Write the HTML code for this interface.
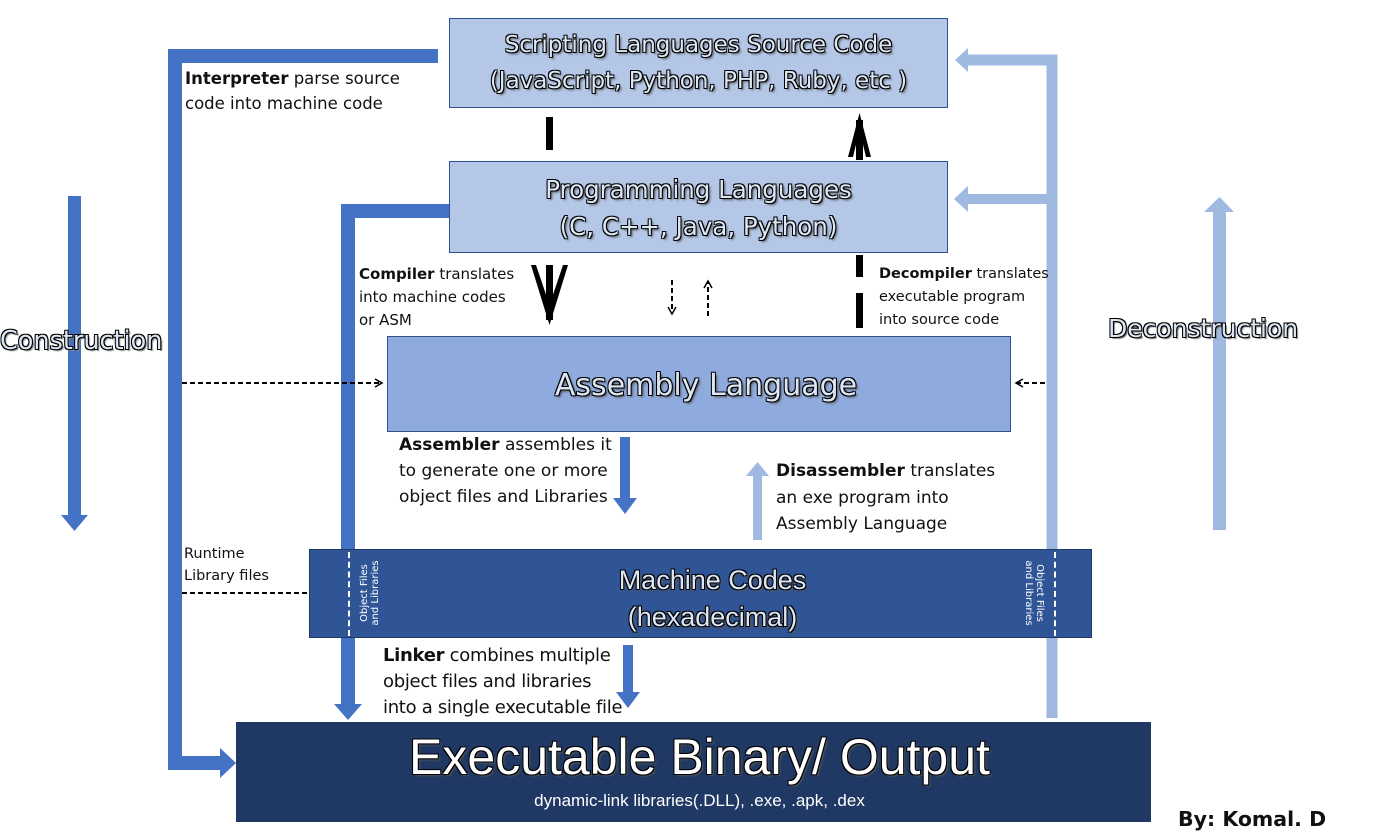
<!DOCTYPE html>
<html><head><style>
body{margin:0;width:1400px;height:836px;background:#fff;position:relative;overflow:hidden;font-family:"Liberation Sans",sans-serif}
.b{position:absolute;box-sizing:border-box;border:1.5px solid #2f528f;text-align:center}
.t{position:absolute;font-family:"DejaVu Sans",sans-serif;font-size:16px;line-height:25px;color:#111}
.d{font-family:"DejaVu Sans",sans-serif}
.o{color:#fff;text-shadow:-1px -1px 0 #000,1px -1px 0 #000,-1px 1px 0 #000,1px 1px 0 #000,2px 2px 2px #555}
.od{color:#dbe5f5;text-shadow:-1px -1px 0 #000,1px -1px 0 #000,-1px 1px 0 #000,1px 1px 0 #000,2px 2px 1px #888}
svg{position:absolute;left:0;top:0}
</style></head><body>
<svg width="1400" height="836">
<defs>
<marker id="ah" markerWidth="10" markerHeight="10" refX="8" refY="5" orient="auto" markerUnits="userSpaceOnUse"><path d="M1,1 L8,5 L1,9" fill="none" stroke="#000" stroke-width="1.5"/></marker>
</defs>
<path d="M438,56 H175 V763 H220" fill="none" stroke="#4472c4" stroke-width="14"/>
<polygon points="220,748 236,763 220,778" fill="#4472c4"/>
<path d="M449,211 H348 V705" fill="none" stroke="#4472c4" stroke-width="14"/>
<polygon points="334,704 362,704 348,720" fill="#4472c4"/>
<rect x="68" y="196" width="13" height="320" fill="#4472c4"/>
<polygon points="61,515 88,515 74.5,531" fill="#4472c4"/>
<rect x="620" y="437" width="10" height="62" fill="#4472c4"/>
<polygon points="613,498 637,498 625,514" fill="#4472c4"/>
<rect x="623" y="645" width="10" height="48" fill="#4472c4"/>
<polygon points="616,692 640,692 628,708" fill="#4472c4"/>
<path d="M1052,718 V60 H968" fill="none" stroke="#9fb9e1" stroke-width="11"/>
<polygon points="968,48 968,72 955,60" fill="#9fb9e1"/>
<rect x="968" y="194" width="86" height="10" fill="#9fb9e1"/>
<polygon points="968,186 968,212 954,199" fill="#9fb9e1"/>
<rect x="1213" y="211" width="13" height="319" fill="#9fb9e1"/>
<polygon points="1204,212 1234,212 1219.5,197" fill="#9fb9e1"/>
<rect x="753" y="475" width="9" height="65" fill="#9fb9e1"/>
<polygon points="746,476 769,476 757.5,462" fill="#9fb9e1"/>
<rect x="546" y="117" width="7" height="33" fill="#000"/>
<rect x="856" y="255" width="7" height="22" fill="#000"/>
<rect x="856" y="293" width="7" height="35" fill="#000"/>
<rect x="856" y="120" width="7" height="40" fill="#000"/>
<polygon points="848,157 859.5,113 871,157 866,157 859.5,130 853,157" fill="#000"/>
<rect x="546" y="265" width="7" height="55" fill="#000"/>
<polygon points="531,265 549.5,325 568,265 563,265 549.5,305 536,265" fill="#000"/>
<line x1="672" y1="280" x2="672" y2="314" stroke="#000" stroke-width="2" stroke-dasharray="5,3" marker-end="url(#ah)"/>
<line x1="708" y1="316" x2="708" y2="281" stroke="#000" stroke-width="2" stroke-dasharray="5,3" marker-end="url(#ah)"/>
<line x1="182" y1="383" x2="382" y2="383" stroke="#000" stroke-width="2" stroke-dasharray="5,3" marker-end="url(#ah)"/>
<line x1="1045" y1="383" x2="1016" y2="383" stroke="#000" stroke-width="2" stroke-dasharray="5,3" marker-end="url(#ah)"/>
<line x1="182" y1="593" x2="309" y2="593" stroke="#000" stroke-width="2" stroke-dasharray="5,3"/>
</svg>
<div class="b d" style="left:449px;top:18px;width:499px;height:90px;background:#b4c7e7;padding-top:8px;font-size:23px;line-height:36px"><span class="o" style="color:#dde6f5">Scripting Languages Source Code<br>(JavaScript, Python, PHP, Ruby, etc )</span></div>
<div class="b d" style="left:449px;top:161px;width:499px;height:92px;background:#b4c7e7;padding-top:9px;font-size:24.5px;line-height:37px"><span class="o" style="color:#dde6f5">Programming Languages<br>(C, C++, Java, Python)</span></div>
<div class="b d" style="left:387px;top:336px;width:624px;height:96px;background:#8faadc;padding-top:31px;padding-left:14px;font-size:30px;line-height:36px"><span class="o" style="color:#dde6f5">Assembly Language</span></div>
<div class="b" style="left:309px;top:549px;width:783px;height:89px;background:#2f5597;border-color:#1f3864;padding-top:12px;padding-left:24px;font-size:27px;line-height:37px"><span class="o" style="color:#dde6f5">Machine Codes<br>(hexadecimal)</span></div>
<div style="position:absolute;left:348px;top:552px;height:84px;border-left:2px dashed #fff"></div>
<div style="position:absolute;left:1054px;top:552px;height:84px;border-left:2px dashed #fff"></div>
<div style="position:absolute;left:350px;top:552px;width:40px;height:84px;"><div class="d" style="position:absolute;left:-22px;top:30px;width:84px;transform:rotate(-90deg);color:#fff;font-size:10px;line-height:11px;text-align:center">Object Files<br>and Libraries</div></div>
<div style="position:absolute;left:1014px;top:552px;width:40px;height:84px;"><div class="d" style="position:absolute;left:-22px;top:30px;width:84px;transform:rotate(90deg);color:#fff;font-size:10px;line-height:11px;text-align:center">Object Files<br>and Libraries</div></div>
<div class="b" style="left:236px;top:722px;width:915px;height:100px;background:#1f3864;border-color:#1f3864;padding-top:6px;padding-left:12px"><div class="o" style="font-size:50px;line-height:56px;color:#fff">Executable Binary/ Output</div><div style="color:#fff;font-size:17px;line-height:24px;margin-top:4px">dynamic-link libraries(.DLL), .exe, .apk, .dex</div></div>
<div class="t" style="left:185px;top:66px;font-size:16.5px"><b>Interpreter</b> parse source<br>code into machine code</div>
<div class="t" style="left:359px;top:263px;font-size:15px;line-height:23px"><b>Compiler</b> translates<br>into machine codes<br>or ASM</div>
<div class="t" style="left:879px;top:263px;font-size:14.5px;line-height:23px"><b>Decompiler</b> translates<br>executable program<br>into source code</div>
<div class="t" style="left:399px;top:432px;font-size:17px;line-height:26px"><b>Assembler</b> assembles it<br>to generate one or more<br>object files and Libraries</div>
<div class="t" style="left:776px;top:458px;font-size:17px;line-height:26.5px"><b>Disassembler</b> translates<br>an exe program into<br>Assembly Language</div>
<div class="t" style="left:383px;top:643px;font-size:18px;line-height:26px;letter-spacing:-0.3px"><b>Linker</b> combines multiple<br>object files and libraries<br>into a single executable file</div>
<div class="t" style="left:184px;top:543px;font-size:14.5px;line-height:22px">Runtime<br>Library files</div>
<div class="t od" style="left:0px;top:326px;font-size:25.5px;line-height:30px">Construction</div>
<div class="t od" style="left:1108px;top:314px;font-size:25px;line-height:30px">Deconstruction</div>
<div class="t" style="left:1178px;top:805px;font-size:20.5px;line-height:28px;font-weight:bold">By: Komal. D</div>
</body></html>
